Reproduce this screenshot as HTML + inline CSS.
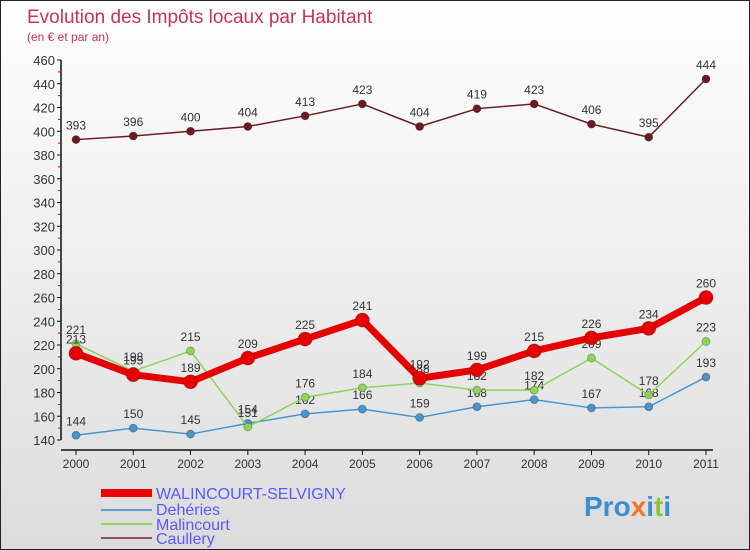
<!DOCTYPE html>
<html><head><meta charset="utf-8"><style>
body{margin:0}
#c{position:relative;width:750px;height:550px;box-sizing:border-box;border:1px solid #222;background:linear-gradient(#fff,#dcdcdc);font-family:"Liberation Sans",sans-serif;overflow:hidden}
</style></head><body>
<div id="c">
<svg id="s" width="748" height="548" xmlns="http://www.w3.org/2000/svg">
<text x="26" y="22" font-size="19" fill="#c8325a">Evolution des Impôts locaux par Habitant</text>
<text x="26" y="40" font-size="12" fill="#c8325a">(en € et par an)</text>
<g id="axes"></g><g id="series"></g>
<g>
<rect x="100" y="488" width="51" height="8" fill="#e00"/>
<text x="155" y="498" font-size="16" fill="#5a5aff">WALINCOURT-SELVIGNY</text>
<line x1="100" y1="509" x2="151" y2="509" stroke="#5a9ed0" stroke-width="2"/>
<text x="155" y="514" font-size="16" fill="#5a5aff">Dehéries</text>
<line x1="100" y1="523" x2="151" y2="523" stroke="#8fd45a" stroke-width="2"/>
<text x="155" y="529" font-size="16" fill="#5a5aff">Malincourt</text>
<line x1="100" y1="537" x2="151" y2="537" stroke="#8b5050" stroke-width="2"/>
<text x="155" y="543" font-size="16" fill="#5a5aff">Caullery</text>
</g>
<text x="583" y="515" font-size="28" font-weight="bold" fill="#3a8fd0">Pro<tspan fill="#f07820">x</tspan>i<tspan fill="#8cc63f">t</tspan>i</text>
</svg>
</div>
<script>
const years=["2000","2001","2002","2003","2004","2005","2006","2007","2008","2009","2010","2011"];
const yTicks=[140,160,180,200,220,240,260,280,300,320,340,360,380,400,420,440,460];
const walincourt=[213,195,189,209,225,241,192,199,215,226,234,260];
const deheries=[144,150,145,154,162,166,159,168,174,167,168,193];
const malincourt=[221,198,215,151,176,184,188,182,182,209,178,223];
const caullery=[393,396,400,404,413,423,404,419,423,406,395,444];
const NS="http://www.w3.org/2000/svg";
const X=i=>75+i*(630/(years.length-1));
const Y=v=>439-(v-140)*(380/320);
function mk(t,a,p){const e=document.createElementNS(NS,t);for(const k in a)e.setAttribute(k,a[k]);p.appendChild(e);return e;}
const ax=document.getElementById('axes');
const yAxis=mk('line',{x1:60,y1:Y(460),x2:60,y2:Y(140),stroke:'#111','stroke-width':1.5},ax);


const xAxis=mk('line',{x1:60,y1:449,x2:712,y2:449,stroke:'#111','stroke-width':1.5},ax);


yTicks.forEach((v,k)=>{
 mk('line',{x1:56,y1:Y(v),x2:60,y2:Y(v),stroke:'#111'},ax);
 if(k<yTicks.length-1) mk('line',{x1:57,y1:Y(v+10),x2:60,y2:Y(v+10),stroke:'#d00'},ax);
 const t=mk('text',{x:54,y:Y(v)+5,'font-size':13,fill:'#333','text-anchor':'end'},ax);
 t.textContent=v;
 
 
});
years.forEach((y,i)=>{
 mk('line',{x1:X(i),y1:449,x2:X(i),y2:454,stroke:'#111'},ax);
 const t=mk('text',{x:X(i),y:467,'font-size':12,fill:'#333','text-anchor':'middle'},ax);
 t.textContent=y;
 
 
});
const sg=document.getElementById('series');
function series(data,name,color,w,r){
 const g=mk('g',{},sg);
 
 
 const pl=mk('polyline',{points:data.map((v,i)=>X(i)+','+Y(v)).join(' '),fill:'none',stroke:color,'stroke-width':w,'stroke-linejoin':'round'},g);
 
 
 data.forEach((v,i)=>{
  const c=mk('circle',{cx:X(i),cy:Y(v),r:r,fill:color,stroke:'rgba(0,0,0,0.3)','stroke-width':0.8},g);
  
  
  const t=mk('text',{x:X(i),y:Y(v)-10,'font-size':12,fill:'#333','text-anchor':'middle'},g);
  t.textContent=v;
  
  
 });
}
series(caullery,'caullery','#6b1a22',1.5,4);
series(deheries,'deheries','#4a94cc',1.5,4);
series(malincourt,'malincourt','#8fd45a',1.5,4);
series(walincourt,'walincourt','#e60000',7,7);
</script>
</body></html>
